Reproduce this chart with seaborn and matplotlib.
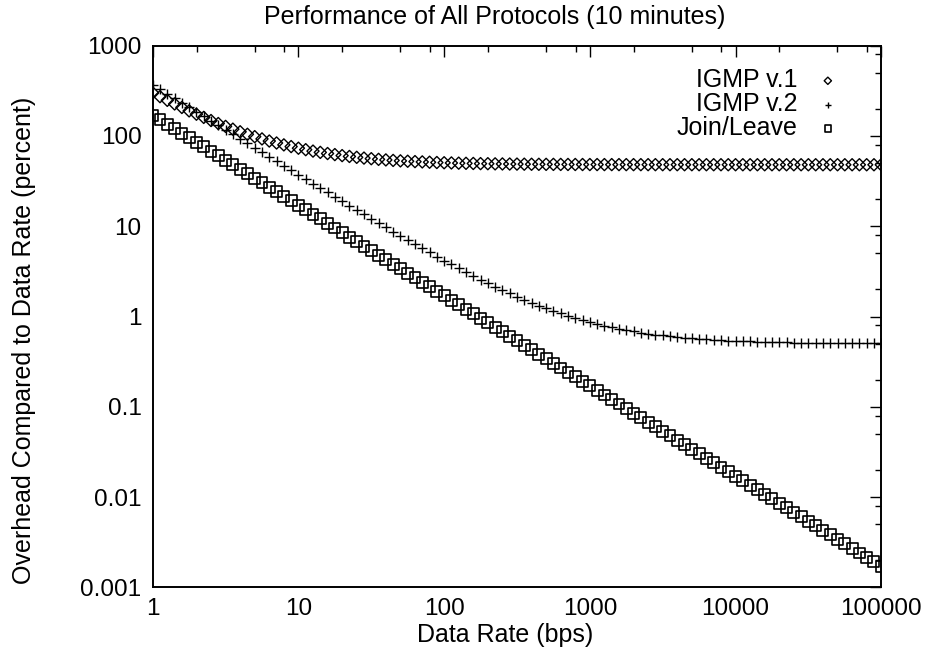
import matplotlib
matplotlib.use("Agg")
import matplotlib.pyplot as plt
import matplotlib.ticker as mticker
import numpy as np
import pandas as pd
import seaborn as sns

# ---- data ----
data_rate = [
    1, 1.122, 1.259, 1.413, 1.585, 1.778, 1.995, 2.239, 2.512, 2.818,
    3.162, 3.548, 3.981, 4.467, 5.012, 5.623, 6.310, 7.079, 7.943, 8.913,
    10, 11.22, 12.59, 14.13, 15.85, 17.78, 19.95, 22.39, 25.12, 28.18,
    31.62, 35.48, 39.81, 44.67, 50.12, 56.23, 63.10, 70.79, 79.43, 89.13,
    100, 112.2, 125.9, 141.3, 158.5, 177.8, 199.5, 223.9, 251.2, 281.8,
    316.2, 354.8, 398.1, 446.7, 501.2, 562.3, 631.0, 707.9, 794.3, 891.3,
    1000, 1122, 1259, 1413, 1585, 1778, 1995, 2239, 2512, 2818,
    3162, 3548, 3981, 4467, 5012, 5623, 6310, 7079, 7943, 8913,
    10000, 11220, 12590, 14130, 15850, 17780, 19950, 22390, 25120, 28180,
    31620, 35480, 39810, 44670, 50120, 56230, 63100, 70790, 79430, 89130,
    100000,
]

igmp_v1 = [
    300, 272.6, 248.2, 226.4, 207.0, 189.7, 174.3, 160.6, 148.3, 137.4,
    127.7, 119.0, 111.3, 104.4, 98.3, 92.8, 87.9, 83.6, 79.7, 76.3,
    73.2, 70.5, 68.0, 65.8, 63.9, 62.2, 60.6, 59.3, 58.0, 56.9,
    56.0, 55.1, 54.3, 53.6, 53.0, 52.5, 52.0, 51.6, 51.2, 50.8,
    50.5, 50.25, 50.0, 49.8, 49.6, 49.4, 49.3, 49.1, 49.0, 48.9,
    48.8, 48.7, 48.6, 48.56, 48.5, 48.45, 48.4, 48.36, 48.32, 48.28,
    48.25, 48.22, 48.2, 48.18, 48.16, 48.14, 48.13, 48.11, 48.1, 48.09,
    48.08, 48.07, 48.06, 48.06, 48.05, 48.04, 48.04, 48.04, 48.03, 48.03,
    48.03, 48.02, 48.02, 48.02, 48.02, 48.01, 48.01, 48.01, 48.01, 48.01,
    48.01, 48.01, 48.01, 48.01, 48.01, 48.0, 48.0, 48.0, 48.0, 48.0,
    48.0,
]

igmp_v2 = [
    367.5, 327.6, 292.0, 260.3, 232.1, 206.9, 184.4, 164.4, 146.6, 130.7,
    116.6, 103.9, 92.7, 82.7, 73.7, 65.8, 58.7, 52.3, 46.7, 41.7,
    37.2, 33.2, 29.65, 26.5, 23.7, 21.1, 18.9, 16.9, 15.1, 13.5,
    12.1, 10.8, 9.72, 8.72, 7.82, 7.03, 6.32, 5.68, 5.12, 4.62,
    4.17, 3.77, 3.42, 3.10, 2.82, 2.56, 2.34, 2.14, 1.96, 1.80,
    1.66, 1.53, 1.42, 1.32, 1.23, 1.15, 1.08, 1.02, 0.962, 0.912,
    0.867, 0.827, 0.792, 0.760, 0.732, 0.706, 0.684, 0.664, 0.646, 0.630,
    0.616, 0.603, 0.592, 0.582, 0.573, 0.565, 0.558, 0.552, 0.546, 0.541,
    0.537, 0.533, 0.529, 0.526, 0.523, 0.521, 0.518, 0.516, 0.515, 0.513,
    0.512, 0.510, 0.509, 0.508, 0.507, 0.507, 0.506, 0.505, 0.505, 0.504,
    0.504,
]

join_leave = [
    170, 151.5, 135.0, 120.4, 107.3, 95.6, 85.2, 75.9, 67.7, 60.3,
    53.8, 47.9, 42.7, 38.1, 33.9, 30.2, 26.9, 24.0, 21.4, 19.1,
    17.0, 15.15, 13.50, 12.04, 10.73, 9.56, 8.52, 7.59, 6.77, 6.03,
    5.38, 4.79, 4.27, 3.81, 3.39, 3.02, 2.69, 2.40, 2.14, 1.91,
    1.70, 1.515, 1.350, 1.204, 1.073, 0.956, 0.852, 0.759, 0.677, 0.603,
    0.538, 0.479, 0.427, 0.381, 0.339, 0.302, 0.269, 0.240, 0.214, 0.191,
    0.170, 0.1515, 0.1350, 0.1204, 0.1073, 0.0956, 0.0852, 0.0759, 0.0677, 0.0603,
    0.0538, 0.0479, 0.0427, 0.0381, 0.0339, 0.0302, 0.0269, 0.0240, 0.0214, 0.0191,
    0.0170, 0.01515, 0.01350, 0.01204, 0.01073, 0.00956, 0.00852, 0.00759, 0.00677, 0.00603,
    0.00538, 0.00479, 0.00427, 0.00381, 0.00339, 0.00302, 0.00269, 0.00240, 0.00214, 0.00191,
    0.0017,
]

series_names = ["IGMP v.1", "IGMP v.2", "Join/Leave"]
x_ticks = [1, 10, 100, 1000, 10000, 100000]
x_tick_labels = ["1", "10", "100", "1000", "10000", "100000"]
y_ticks = [0.001, 0.01, 0.1, 1, 10, 100, 1000]
y_tick_labels = ["0.001", "0.01", "0.1", "1", "10", "100", "1000"]

title = "Performance of All Protocols (10 minutes)"
x_label = "Data Rate (bps)"
y_label = "Overhead Compared to Data Rate (percent)"

# ---- plotting ----
sns.set_style("white")
plt.rcParams["font.family"] = ["Liberation Sans", "DejaVu Sans"]
for key in ["text.color", "axes.labelcolor", "xtick.color", "ytick.color",
            "axes.edgecolor"]:
    plt.rcParams[key] = "black"

FS = 17.5
FL = 18

fig = plt.figure(figsize=(9.25, 6.54), dpi=100)
ax = fig.add_axes([0.1651, 0.1020, 0.7876, 0.8281])

df1 = pd.DataFrame({"x": data_rate, "y": igmp_v1})
df2 = pd.DataFrame({"x": data_rate, "y": igmp_v2})
df3 = pd.DataFrame({"x": data_rate, "y": join_leave})

sns.scatterplot(data=df1, x="x", y="y", ax=ax, marker="D", s=38,
                facecolors="none", edgecolor="black", linewidth=1.0,
                label=series_names[0], zorder=3)
sns.scatterplot(data=df2, x="x", y="y", ax=ax, marker="+", s=60,
                color="black", linewidth=1.0,
                label=series_names[1], zorder=3)
sns.scatterplot(data=df3, x="x", y="y", ax=ax, marker="s", s=62,
                facecolors="none", edgecolor="black", linewidth=1.2,
                label=series_names[2], zorder=3)

ax.set_xscale("log")
ax.set_yscale("log")
ax.set_xlim(1, 100000)
ax.set_ylim(0.001, 1000)

ax.set_xticks(x_ticks)
ax.set_xticklabels(x_tick_labels)
ax.set_yticks(y_ticks)
ax.set_yticklabels(y_tick_labels)
ax.xaxis.set_minor_locator(mticker.LogLocator(base=10, subs=[2, 5, 8]))
ax.yaxis.set_minor_locator(mticker.LogLocator(base=10, subs=[2, 5, 8]))
ax.xaxis.set_minor_formatter(mticker.NullFormatter())
ax.yaxis.set_minor_formatter(mticker.NullFormatter())

ax.tick_params(which="major", direction="in", length=8, width=1.0,
               top=True, right=True, labelsize=FS, colors="black", pad=8)
ax.tick_params(which="minor", direction="in", length=4, width=1.0,
               top=True, right=True)
for sp in ax.spines.values():
    sp.set_color("black")
    sp.set_linewidth(1.4)

ax.set_xlabel(x_label, fontsize=FL)
ax.xaxis.set_label_coords(0.4836, -0.088)
ax.xaxis.label.set_va("center")
ax.set_ylabel(y_label, fontsize=FL)
ax.yaxis.set_label_coords(-0.1767, 0.4566)
ax.yaxis.label.set_va("center")
fig.text(0.535, 0.974, title, fontsize=FL, ha="center", va="center")

leg = ax.legend(loc="upper right", bbox_to_anchor=(0.949, 0.9767),
                frameon=False, markerfirst=False,
                fontsize=FL, markerscale=0.6, handlelength=0.5,
                handletextpad=0.95, labelspacing=0.0, borderaxespad=0.0)
for t in leg.get_texts():
    t.set_ha("right")

fig.savefig("out.png", dpi=100)
